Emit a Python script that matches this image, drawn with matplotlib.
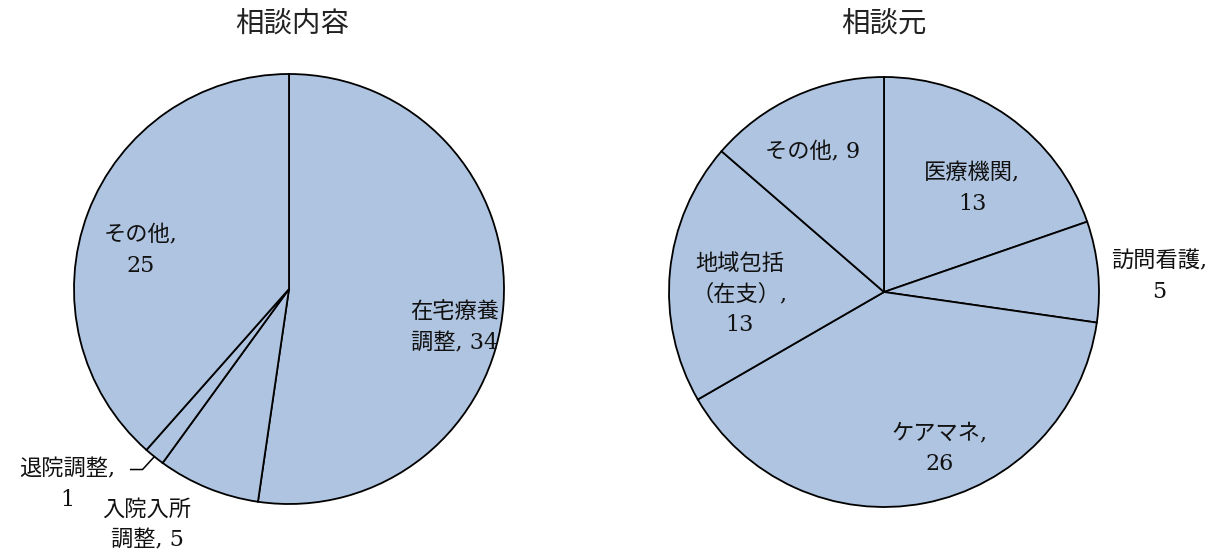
import numpy as np
import matplotlib.pyplot as plt

# data
left_title = "相談内容"
left_labels = ["在宅療養\n調整, 34", "入院入所\n調整, 5", "退院調整,\n1", "その他,\n25"]
left_values = [34, 5, 1, 25]

right_title = "相談元"
right_labels = ["医療機関,\n13", "訪問看護,\n5", "ケアマネ,\n26", "地域包括\n（在支）,\n13", "その他, 9"]
right_values = [13, 5, 26, 13, 9]

# label positions (in pie radius units)
left_pos = [(0.77, -0.18), (-0.66, -1.10), (-1.03, -0.91), (-0.69, 0.18)]
right_pos = [(0.41, 0.48), (1.28, 0.07), (0.26, -0.73), (-0.67, -0.01), (-0.33, 0.65)]

fill = "#AFC4E0"
fam = ["DejaVu Serif", "Noto Sans CJK JP"]

fig = plt.figure(figsize=(12.24, 5.56), dpi=100)

R = 215.0
W, H = 1224.0, 556.0


def make_ax(x0, x1, cx, cy):
    # axes spanning pixels x0..x1 (full height), pie centre at (cx, cy) from top-left
    ax = fig.add_axes([x0 / W, 0, (x1 - x0) / W, 1])
    return ax, ((x0 - cx) / R, (x1 - cx) / R), ((cy - H) / R, cy / R)


def draw(ax, xl, yl, values, labels, pos, title, tx):
    wedges, _ = ax.pie(values, startangle=90, counterclock=False, colors=[fill] * len(values),
                       wedgeprops=dict(edgecolor="black", linewidth=1.3))
    ax.set_xlim(*xl)
    ax.set_ylim(*yl)
    ax.set_aspect("auto")
    ax.axis("off")
    for lab, (x, y) in zip(labels, pos):
        ax.text(x, y, lab, ha="center", va="center", fontsize=16, family=fam,
                linespacing=1.5, color="#111111")
    fig.text(tx / W, 1 - 25 / H, title, ha="center", va="center", fontsize=20.5,
             family="Noto Sans CJK JP", color="#222222")
    return wedges


axl, xl, yl = make_ax(0, 578, 289, 289)
wl = draw(axl, xl, yl, left_values, left_labels, left_pos, left_title, 292)

# leader line for the small slice
w = wl[2]
mid = np.deg2rad((w.theta1 + w.theta2) / 2)
px, py = np.cos(mid), np.sin(mid)
axl.plot([px, px - 0.055, px - 0.11], [py, py - 0.06, py - 0.06], color="black", lw=1.1)

axr, xr, yr = make_ax(578, 1224, 884, 292)
draw(axr, xr, yr, right_values, right_labels, right_pos, right_title, 884)

fig.savefig("out.png", dpi=100)
